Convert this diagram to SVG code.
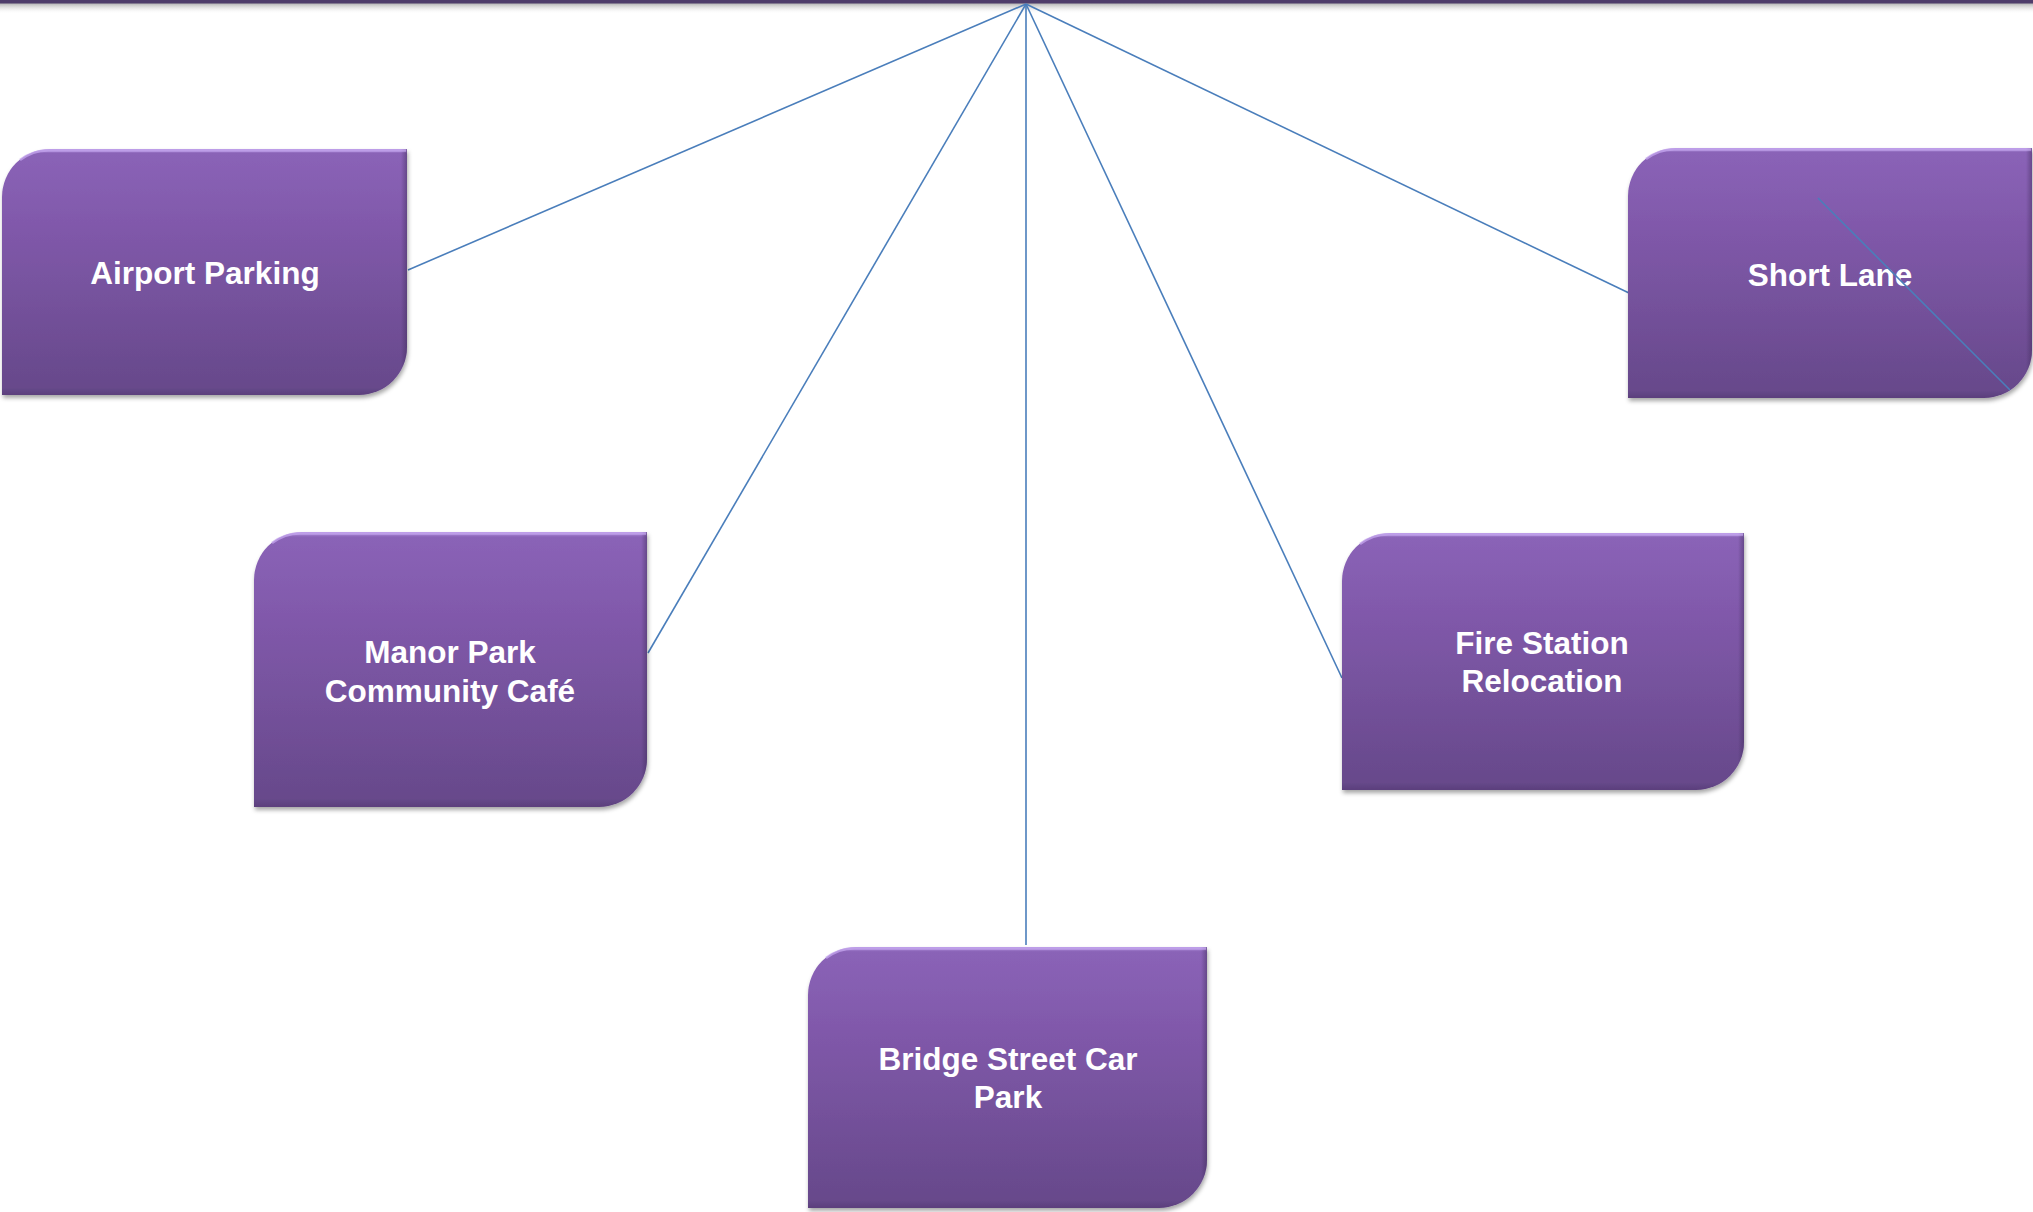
<svg xmlns="http://www.w3.org/2000/svg" width="2033" height="1212" viewBox="0 0 2033 1212">
  <style>
    .box { fill: url(#boxFill); filter: url(#shadow); }
    .bevel { fill: url(#rightEdge); }
    .rim { fill: none; stroke: #c4a6ee; stroke-width: 2.5; stroke-opacity: 0.75; }
    .label { font-family: "Liberation Sans", Arial, sans-serif; font-weight: bold; font-size: 31.5px; fill: #ffffff; text-anchor: middle; }
    .link { stroke: #4a7ebb; stroke-width: 1.6; fill: none; }
  </style>
  <defs>
    <linearGradient id="boxFill" x1="0" y1="0" x2="0" y2="1">
      <stop offset="0" stop-color="#b899e4"/>
      <stop offset="0.018" stop-color="#8a63b7"/>
      <stop offset="0.3" stop-color="#8159ab"/>
      <stop offset="0.97" stop-color="#67498b"/>
      <stop offset="1" stop-color="#5b3f7c"/>
    </linearGradient>
    <linearGradient id="rightEdge" x1="0" y1="0" x2="1" y2="0">
      <stop offset="0" stop-color="#3c2a56" stop-opacity="0"/>
      <stop offset="0.985" stop-color="#3c2a56" stop-opacity="0"/>
      <stop offset="1" stop-color="#3c2a56" stop-opacity="0.45"/>
    </linearGradient>
    <linearGradient id="barShade" x1="0" y1="0" x2="0" y2="1">
      <stop offset="0" stop-color="#8c8c8c" stop-opacity="0.7"/>
      <stop offset="1" stop-color="#ffffff" stop-opacity="0"/>
    </linearGradient>
    <filter id="shadow" x="-5%" y="-5%" width="112%" height="115%">
      <feDropShadow dx="1" dy="3" stdDeviation="2" flood-color="#000000" flood-opacity="0.35"/>
    </filter>
  </defs>

  <rect width="2033" height="1212" fill="#ffffff"/>

  <!-- top rule with soft shading underneath -->
  <g id="top-rule">
    <rect x="0" y="3" width="2033" height="11" fill="url(#barShade)"/>
    <rect x="0" y="0" width="2033" height="3.5" fill="#4f3d6b"/>
  </g>

  <!-- connectors from the hub at the top -->
  <g id="connectors">
    <line class="link" x1="1026" y1="4" x2="408" y2="270"/>
    <line class="link" x1="1026" y1="4" x2="648" y2="653"/>
    <line class="link" x1="1026" y1="4" x2="1026" y2="945"/>
    <line class="link" x1="1026" y1="4" x2="1342" y2="678"/>
    <line class="link" x1="1026" y1="4" x2="1629" y2="293"/>
  </g>

  <g id="node-airport-parking">
    <path class="box" d="M50,149 H407 V347 A48,48 0 0 1 359,395 H2 V197 A48,48 0 0 1 50,149 Z"/>
    <path class="bevel" d="M50,149 H407 V347 A48,48 0 0 1 359,395 H2 V197 A48,48 0 0 1 50,149 Z"/>
    <path class="rim" d="M20,160 A47,47 0 0 1 50,150.5 H406"/>
    <text class="label" x="205" y="284">Airport Parking</text>
  </g>

  <g id="node-short-lane">
    <path class="box" d="M1676,148 H2032 V350 A48,48 0 0 1 1984,398 H1628 V196 A48,48 0 0 1 1676,148 Z"/>
    <path class="bevel" d="M1676,148 H2032 V350 A48,48 0 0 1 1984,398 H1628 V196 A48,48 0 0 1 1676,148 Z"/>
    <path class="rim" d="M1646,159 A47,47 0 0 1 1676,149.5 H2031"/>
    <text class="label" x="1830" y="286">Short Lane</text>
    <line class="link" x1="1818" y1="198" x2="2010" y2="390"/>
  </g>

  <g id="node-manor-park">
    <path class="box" d="M302,532 H647 V759 A48,48 0 0 1 599,807 H254 V580 A48,48 0 0 1 302,532 Z"/>
    <path class="bevel" d="M302,532 H647 V759 A48,48 0 0 1 599,807 H254 V580 A48,48 0 0 1 302,532 Z"/>
    <path class="rim" d="M272,543 A47,47 0 0 1 302,533.5 H646"/>
    <text class="label" x="450" y="663">Manor Park</text>
    <text class="label" x="450" y="702">Community Café</text>
  </g>

  <g id="node-fire-station">
    <path class="box" d="M1390,533 H1744 V742 A48,48 0 0 1 1696,790 H1342 V581 A48,48 0 0 1 1390,533 Z"/>
    <path class="bevel" d="M1390,533 H1744 V742 A48,48 0 0 1 1696,790 H1342 V581 A48,48 0 0 1 1390,533 Z"/>
    <path class="rim" d="M1360,544 A47,47 0 0 1 1390,534.5 H1743"/>
    <text class="label" x="1542" y="654">Fire Station</text>
    <text class="label" x="1542" y="692">Relocation</text>
  </g>

  <g id="node-bridge-street">
    <path class="box" d="M856,947 H1207 V1160 A48,48 0 0 1 1159,1208 H808 V995 A48,48 0 0 1 856,947 Z"/>
    <path class="bevel" d="M856,947 H1207 V1160 A48,48 0 0 1 1159,1208 H808 V995 A48,48 0 0 1 856,947 Z"/>
    <path class="rim" d="M826,958 A47,47 0 0 1 856,948.5 H1206"/>
    <text class="label" x="1008" y="1070">Bridge Street Car</text>
    <text class="label" x="1008" y="1108">Park</text>
  </g>
</svg>
